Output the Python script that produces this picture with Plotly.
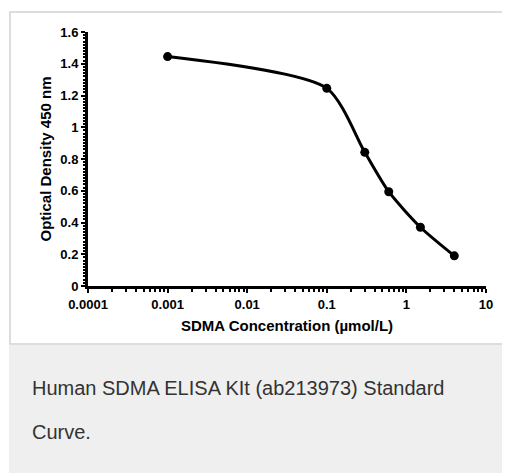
import plotly.graph_objects as go

# Data
concentration = [0.001, 0.1, 0.3, 0.6, 1.5, 4.0]
optical_density = [1.445, 1.245, 0.842, 0.594, 0.370, 0.190]

x_tick_vals = [0.0001, 0.001, 0.01, 0.1, 1, 10]
x_tick_labels = ["0.0001", "0.001", "0.01", "0.1", "1", "10"]
y_tick_vals = [0, 0.2, 0.4, 0.6, 0.8, 1.0, 1.2, 1.4, 1.6]
y_tick_labels = ["0", "0.2", "0.4", "0.6", "0.8", "1", "1.2", "1.4", "1.6"]

x_title = "SDMA Concentration (µmol/L)"
y_title = "Optical Density 450 nm"
caption_lines = ["Human SDMA ELISA KIt (ab213973) Standard", "Curve."]

# The page body has an 8px margin, so the figure starts at page (8, 8).
OFF = 8
W, H = 510 - OFF, 473 - OFF
PL, PR, PT, PB = 88 - OFF, 486 - OFF, 32 - OFF, 286 - OFF  # plot area in figure pixels


def px(x):
    return (x - OFF - PL) / (PR - PL)


def py(y):
    return (PB - (y - OFF)) / (PB - PT)


FONT = "Liberation Sans, Arial, Helvetica, sans-serif"

fig = go.Figure()
fig.add_trace(go.Scatter(
    x=concentration, y=optical_density,
    mode="lines+markers",
    line=dict(color="black", width=3, shape="spline", smoothing=0.7),
    marker=dict(color="black", size=9),
    showlegend=False, hoverinfo="x+y",
))

shapes = [
    # grey caption panel
    dict(type="rect", xref="paper", yref="paper",
         x0=px(9), x1=px(520), y0=py(344), y1=py(480),
         fillcolor="#eeefee", line=dict(width=0), layer="below"),
    # light border around chart box
    dict(type="rect", xref="paper", yref="paper",
         x0=px(10), x1=px(530), y0=py(12), y1=py(344),
         fillcolor="rgba(0,0,0,0)", line=dict(color="#dddddd", width=2), layer="below"),
]

annotations = []
for i, line in enumerate(caption_lines):
    annotations.append(dict(
        x=px(30), y=py(388 + i * 44), xref="paper", yref="paper",
        xanchor="left", yanchor="middle", showarrow=False,
        text=line, font=dict(family=FONT, size=20, color="#333333"),
    ))

fig.update_layout(
    width=W, height=H,
    margin=dict(l=PL, r=W - PR, t=PT, b=H - PB, autoexpand=False),
    paper_bgcolor="white", plot_bgcolor="white",
    shapes=shapes, annotations=annotations,
    font=dict(family=FONT, color="black"),
)

fig.update_xaxes(
    type="log", range=[-4, 1],
    tickvals=x_tick_vals, ticktext=x_tick_labels,
    tickfont=dict(family=FONT, size=13, color="black", weight="bold"),
    showline=True, linecolor="black", linewidth=3,
    ticks="outside", ticklen=4, tickwidth=2, tickcolor="black",
    minor=dict(ticks="outside", ticklen=3, tickwidth=1.5, tickcolor="black", dtick="D1", showgrid=False),
    showgrid=False, zeroline=False,
    title=dict(text=x_title, standoff=10,
               font=dict(family=FONT, size=15, color="black", weight="bold")),
)
fig.update_yaxes(
    range=[0, 1.6],
    tickvals=y_tick_vals, ticktext=y_tick_labels,
    tickfont=dict(family=FONT, size=13, color="black", weight="bold"),
    showline=True, linecolor="black", linewidth=3,
    ticks="outside", ticklen=4, tickwidth=2, tickcolor="black",
    minor=dict(ticks="outside", ticklen=2, tickwidth=1.5, tickcolor="black", dtick=0.02, showgrid=False),
    showgrid=False, zeroline=False,
    title=dict(text=y_title, standoff=6,
               font=dict(family=FONT, size=15, color="black", weight="bold")),
)

fig.write_html("out.html")
